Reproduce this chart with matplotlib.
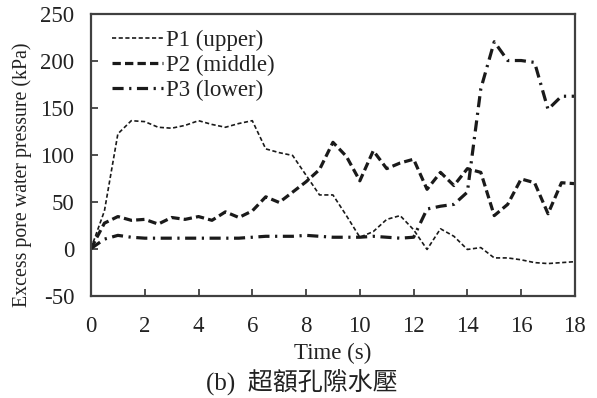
import matplotlib
matplotlib.use("Agg")
import matplotlib.pyplot as plt

plt.rcParams['font.family'] = ['Liberation Serif', 'Noto Sans CJK TC']
plt.rcParams['lines.scale_dashes'] = False
plt.rcParams['axes.unicode_minus'] = False

time_s = [0, 0.5, 1, 1.5, 2, 2.5, 3, 3.5, 4, 4.5, 5, 5.5, 6, 6.5, 7, 7.5, 8, 8.5, 9,
          9.5, 10, 10.5, 11, 11.5, 12, 12.5, 13, 13.5, 14, 14.5, 15, 15.5, 16, 16.5, 17, 17.5, 18]
p1_upper = [0, 40, 122, 136, 135, 129, 128, 131, 136, 132, 129, 133, 136, 106, 102, 99, 78, 57, 57,
            35, 12, 18, 31, 35, 20, -1, 21, 13, -1, 1, -10, -10, -12, -15, -16, -15, -14]
p2_middle = [0, 27, 34, 30, 31, 26, 33, 31, 34, 30, 39, 33, 40, 55, 49, 60, 71, 84, 113,
             98, 72, 104, 85, 91, 95, 63, 81, 67, 85, 81, 35, 47, 74, 70, 37, 70, 69]
p3_lower = [0, 10, 14, 12, 11, 11, 11, 11, 11, 11, 11, 11, 12, 13, 13, 13, 14, 13, 12,
            12, 12, 13, 12, 11, 12, 42, 45, 47, 60, 170, 220, 200, 200, 198, 148, 162, 162]

labels = ['P1 (upper)', 'P2 (middle)', 'P3 (lower)']
x_ticks = [0, 2, 4, 6, 8, 10, 12, 14, 16, 18]
y_ticks = [-50, 0, 50, 100, 150, 200, 250]

fig = plt.figure(figsize=(5.97, 3.98), dpi=100)
ax = fig.add_axes([0.1524, 0.2575, 0.8106, 0.7085])

c = '#1a1a1a'
ax.plot(time_s, p1_upper, color=c, lw=1.2, dashes=(3, 1.8), label=labels[0])
ax.plot(time_s, p2_middle, color=c, lw=2.3, dashes=(6, 3), label=labels[1])
ax.plot(time_s, p3_lower, color=c, lw=2.3, dashes=(8, 4, 1.6, 4), label=labels[2])

ax.set_xlim(0, 18)
ax.set_ylim(-50, 250)
ax.set_xticks(x_ticks)
ax.set_yticks(y_ticks)
ax.tick_params(direction='in', length=5, width=1.3, color='#404040', labelsize=16.5,
               labelcolor='#222222')
ax.tick_params(axis='y', pad=12)
ax.tick_params(axis='x', pad=15)
for s in ax.spines.values():
    s.set_color('#404040')
    s.set_linewidth(1.6)

ax.set_xlabel('Time (s)', fontsize=16.5, labelpad=4, color='#222222')
ax.set_ylabel('Excess pore water pressure (kPa)', fontsize=14.3, color='#222222')
ax.yaxis.set_label_coords(-0.121, 0.427)

leg = ax.legend(loc='upper left', frameon=False, fontsize=16.5, handlelength=2.2,
                handletextpad=0.15, labelspacing=0.18, borderaxespad=0.0,
                bbox_to_anchor=(0.025, 0.975))
for t in leg.get_texts():
    t.set_color('#222222')

fig.text(0.505, 0.04, '(b)  超額孔隙水壓', ha='center', va='center', fontsize=18,
         color='#222222')

fig.savefig('out.png', dpi=100)
